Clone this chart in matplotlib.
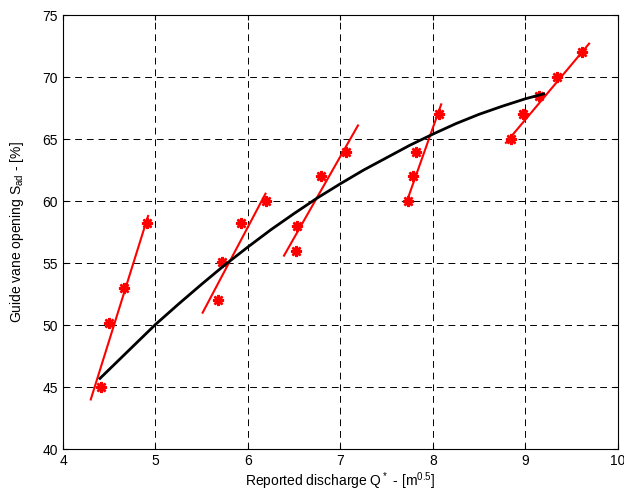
import matplotlib
matplotlib.use("Agg")
import matplotlib.pyplot as plt

plt.rcParams['font.family'] = ['Liberation Sans', 'DejaVu Sans']
plt.rcParams['mathtext.default'] = 'regular'

# Measured points (reported discharge, guide vane opening), one group per head
groups_q = [
    [4.41, 4.50, 4.66, 4.91],
    [5.68, 5.72, 5.93, 6.19],
    [6.52, 6.53, 6.79, 7.06],
    [7.73, 7.78, 7.82, 8.07],
    [8.84, 8.97, 9.15, 9.34, 9.61],
]
groups_s = [
    [45.0, 50.2, 53.0, 58.2],
    [52.0, 55.1, 58.2, 60.0],
    [56.0, 58.0, 62.0, 64.0],
    [60.0, 62.0, 64.0, 67.0],
    [65.0, 67.0, 68.5, 70.0, 72.0],
]

# Fitted red lines (start and end of each)
fit_q = [[4.30, 4.92], [5.51, 6.19], [6.39, 7.19], [7.71, 8.09], [8.79, 9.69]]
fit_s = [[44.0, 58.8], [51.0, 60.6], [55.6, 66.1], [59.8, 67.8], [64.7, 72.7]]

# Black curve through the groups
curve_q = [4.40, 4.6, 4.8, 5.0, 5.25, 5.5, 5.75, 6.0, 6.25, 6.5, 6.75, 7.0,
           7.25, 7.5, 7.75, 8.0, 8.25, 8.5, 8.75, 9.0, 9.2]
curve_s = [45.7, 47.15, 48.6, 50.05, 51.7, 53.3, 54.85, 56.3, 57.7, 59.0, 60.25, 61.4,
           62.5, 63.5, 64.5, 65.4, 66.25, 67.0, 67.65, 68.25, 68.65]

fig = plt.figure(figsize=(6.24, 5.04), dpi=100)
ax = fig.add_axes([0.101, 0.109, 0.889, 0.861])

for fq, fs in zip(fit_q, fit_s):
    ax.plot(fq, fs, color='red', lw=1.5)
for gq, gs in zip(groups_q, groups_s):
    ax.plot(gq, gs, ls='none', marker=(8, 2, 0), ms=8, mew=1.8, color='red')
ax.plot(curve_q, curve_s, color='black', lw=2)

ax.set_xlim(4, 10)
ax.set_ylim(40, 75)
ax.set_xticks(range(4, 11))
ax.set_yticks(range(40, 80, 5))
ax.grid(True, color='black', ls=(0, (7, 5)), lw=0.7)
ax.tick_params(direction='in', top=True, right=True, labelsize=10)
for sp in ax.spines.values():
    sp.set_linewidth(0.8)

ax.set_xlabel("Reported discharge Q$^*$ - [m$^{0.5}$]", fontsize=10, labelpad=2)
ax.set_ylabel("Guide vane opening S$_{ad}$ - [%]", fontsize=10, labelpad=12)

fig.savefig("out.png", dpi=100)
